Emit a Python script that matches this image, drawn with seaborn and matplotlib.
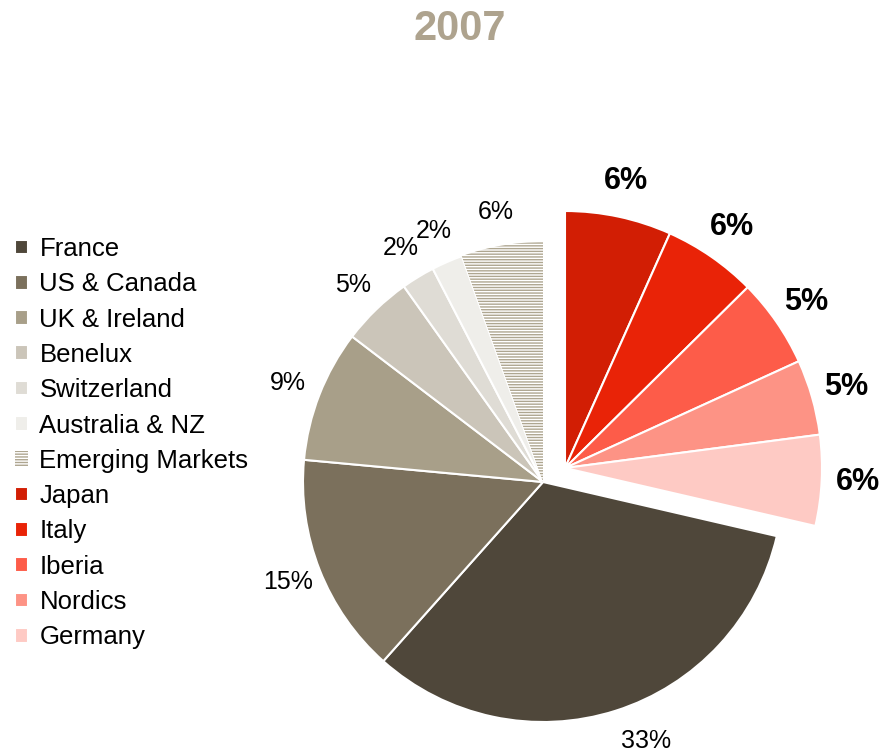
import matplotlib.pyplot as plt
import seaborn as sns

# data, listed clockwise from 12 o'clock
regions = ['Japan', 'Italy', 'Iberia', 'Nordics', 'Germany',
           'France', 'US & Canada', 'UK & Ireland', 'Benelux',
           'Switzerland', 'Australia & NZ', 'Emerging Markets']
shares = [6.7, 5.9, 5.6, 4.75, 5.7,
          33.0, 14.9, 8.9, 4.8, 2.25, 2.1, 5.5]
pct_text = ['6%', '6%', '5%', '5%', '6%',
            '33%', '15%', '9%', '5%', '2%', '2%', '6%']
red_group = ['Japan', 'Italy', 'Iberia', 'Nordics', 'Germany']
legend_order = ['France', 'US & Canada', 'UK & Ireland', 'Benelux',
                'Switzerland', 'Australia & NZ', 'Emerging Markets',
                'Japan', 'Italy', 'Iberia', 'Nordics', 'Germany']

colors = ['#d21e04', '#e92307', '#fd5c49', '#fd9385', '#fecac4',
          '#4f473a', '#7b705c', '#a89f89', '#cbc5b9', '#dfdcd5',
          '#efeeea', '#ffffff']

sns.set_theme(style='white')
plt.rcParams['font.family'] = ['Liberation Sans', 'DejaVu Sans']
plt.rcParams['hatch.linewidth'] = 1.0

fig = plt.figure(figsize=(8.88, 7.53), dpi=100)
ax = fig.add_axes([0, 0, 1, 1])

is_red = [r in red_group for r in regions]

# grey part of the pie
gray_w, gray_t = ax.pie(shares, colors=colors,
                        labels=['' if red else t for t, red in zip(pct_text, is_red)],
                        startangle=90, counterclock=False,
                        center=(543, 271), radius=240, labeldistance=1.14,
                        wedgeprops=dict(edgecolor='white', linewidth=1.5),
                        textprops=dict(fontsize=18, color='black'))

# red part, pulled out
red_w, red_t = ax.pie(shares, colors=colors,
                      labels=[t if red else '' for t, red in zip(pct_text, is_red)],
                      startangle=90, counterclock=False,
                      center=(565, 285), radius=257, labeldistance=1.14,
                      wedgeprops=dict(edgecolor='white', linewidth=1.5),
                      textprops=dict(fontsize=22, fontweight='bold', color='black'))

for i, red in enumerate(is_red):
    if red:
        gray_w[i].set_visible(False)
    else:
        red_w[i].set_visible(False)

for t in gray_t + red_t:
    t.set_ha('center')
    t.set_va('center')

# the 33% label sits a little right of the slice middle
fr = gray_t[regions.index('France')]
x, y = fr.get_position()
fr.set_position((x + 20, y + 2))

em = gray_w[regions.index('Emerging Markets')]
em.set_facecolor('white')
em.set_edgecolor('#aea690')
em.set_hatch('------')
em.set_linewidth(0)

handles = []
for name in legend_order:
    i = regions.index(name)
    handles.append(red_w[i] if name in red_group else gray_w[i])

ax.legend(handles, legend_order, loc='upper left',
          bbox_to_anchor=(15 / 888, 1 - 237 / 753), frameon=False,
          fontsize=18.5, labelcolor='black', handlelength=0.5, handleheight=0.5,
          handletextpad=0.45, labelspacing=0.44, borderpad=0, borderaxespad=0)

ax.text(460, 724, '2007', ha='center', va='center', fontsize=30,
        fontweight='bold', color='#aea38e')

ax.set_xlim(0, 888)
ax.set_ylim(0, 753)
ax.set_aspect('equal')
ax.axis('off')

fig.savefig('out.png', dpi=100)
